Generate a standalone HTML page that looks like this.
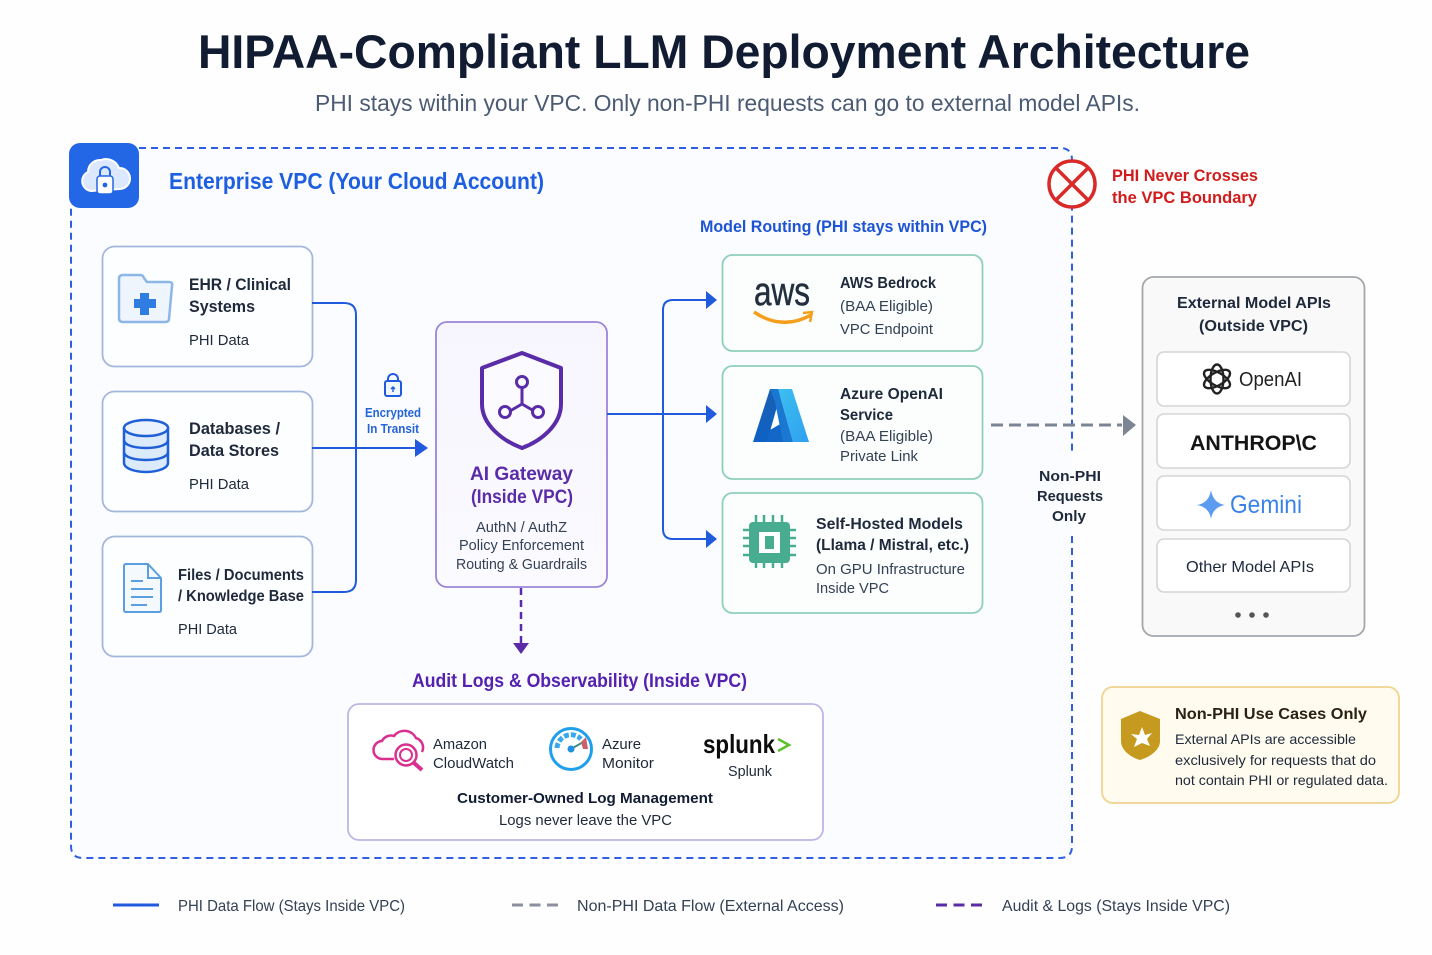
<!DOCTYPE html>
<html><head><meta charset="utf-8"><title>HIPAA-Compliant LLM Deployment Architecture</title>
<style>
html,body{margin:0;padding:0;background:#fefefe}
svg{display:block;filter:blur(.35px)}
text{font-family:"Liberation Sans",sans-serif;fill:#1e293b}
.b{font-weight:700}
.s{fill:#334155}
</style></head><body>
<svg width="1432" height="955" viewBox="0 0 1432 955" xmlns="http://www.w3.org/2000/svg">
<defs>
<linearGradient id="azL" x1="0" y1="0" x2="0" y2="1"><stop offset="0" stop-color="#1a5fb4"/><stop offset="1" stop-color="#0e62c4"/></linearGradient>
<linearGradient id="azR" x1="0" y1="0" x2="1" y2="1"><stop offset="0" stop-color="#3cc0f0"/><stop offset="1" stop-color="#2f9ff0"/></linearGradient>
<linearGradient id="gw" x1="0" y1="0" x2="0" y2="1"><stop offset="0" stop-color="#f7f5fe"/><stop offset="1" stop-color="#fbfaff"/></linearGradient>
</defs>
<rect width="1432" height="955" fill="#fefefe"/>

<text class="b" x="198" y="68" font-size="47" textLength="1052" lengthAdjust="spacingAndGlyphs" style="fill:#111c33">HIPAA-Compliant LLM Deployment Architecture</text>
<text x="315" y="111" font-size="23" textLength="825" lengthAdjust="spacingAndGlyphs" style="fill:#4b5b73">PHI stays within your VPC. Only non-PHI requests can go to external model APIs.</text>

<!-- VPC boundary -->
<rect x="71" y="148" width="1001" height="710" rx="14" fill="#fbfcff"/>
<path d="M139 148H1060Q1072 148 1072 160V455M1072 536V846Q1072 858 1060 858H83Q71 858 71 846V205" fill="none" stroke="#2f5fe0" stroke-width="2" stroke-dasharray="7 5"/>
<rect x="69" y="143" width="70" height="65" rx="11" fill="#2366e6"/>
<!-- cloud lock -->
<path d="M91 191a10 10 0 0 1-3-19a12 12 0 0 1 13-12a14 14 0 0 1 18 8a10 10 0 0 1 1 21z" fill="#dbe8ff" stroke="#fff" stroke-width="2"/>
<rect x="97" y="176" width="16" height="18" rx="3" fill="#fff" stroke="#2366e6" stroke-width="1.500"/>
<path d="M100 176v-4a5 5 0 0 1 10 0v4" fill="none" stroke="#2366e6" stroke-width="2"/>
<circle cx="105" cy="185" r="2.400" fill="#2366e6"/>
<text class="b" x="169" y="189" font-size="23" textLength="375" lengthAdjust="spacingAndGlyphs" style="fill:#1d5fe0">Enterprise VPC (Your Cloud Account)</text>

<!-- red X -->
<circle cx="1072" cy="184" r="23" fill="#fefefe" stroke="#d92a2a" stroke-width="3.500"/>
<path d="M1056 168L1088 200M1088 168L1056 200" stroke="#d92a2a" stroke-width="3.500"/>
<text class="b" x="1112" y="181" font-size="17" textLength="146" lengthAdjust="spacingAndGlyphs" style="fill:#d01c1c">PHI Never Crosses</text>
<text class="b" x="1112" y="203" font-size="17" textLength="145" lengthAdjust="spacingAndGlyphs" style="fill:#d01c1c">the VPC Boundary</text>

<!-- sources -->
<g fill="#fdfeff" stroke="#a3b7de" stroke-width="1.800">
<rect x="102.500" y="246.500" width="210" height="120" rx="12"/>
<rect x="102.500" y="391.500" width="210" height="120" rx="12"/>
<rect x="102.500" y="536.500" width="210" height="120" rx="12"/>
</g>
<!-- folder -->
<path d="M119 279q0-4 4-4h17q3 0 4 3l3 4h22q4 0 3 4l-3 33q0 3-4 3h-42q-4 0-4-4z" fill="#eef5fd" stroke="#8cb6e6" stroke-width="2.500"/>
<path d="M140 293h9v6h7v9h-7v7h-9v-7h-6v-9h6z" fill="#2f7de0"/>
<text class="b" x="189" y="290" font-size="17" textLength="102" lengthAdjust="spacingAndGlyphs">EHR / Clinical</text>
<text class="b" x="189" y="312" font-size="17" textLength="66" lengthAdjust="spacingAndGlyphs">Systems</text>
<text x="189" y="345" font-size="15" textLength="60" lengthAdjust="spacingAndGlyphs">PHI Data</text>
<!-- db -->
<path d="M124 429v34c0 5 10 9 22 9s22-4 22-9v-34z" fill="#dcebfb" stroke="#1f5fd8" stroke-width="2.500"/>
<ellipse cx="146" cy="428" rx="22" ry="8" fill="#eaf3fd" stroke="#1f5fd8" stroke-width="2.500"/>
<path d="M124 440c0 5 10 8 22 8s22-3 22-8M124 452c0 5 10 8 22 8s22-3 22-8" fill="none" stroke="#1f5fd8" stroke-width="2.500"/>
<text class="b" x="189" y="434" font-size="17" textLength="91" lengthAdjust="spacingAndGlyphs">Databases /</text>
<text class="b" x="189" y="456" font-size="17" textLength="90" lengthAdjust="spacingAndGlyphs">Data Stores</text>
<text x="189" y="489" font-size="15" textLength="60" lengthAdjust="spacingAndGlyphs">PHI Data</text>
<!-- doc -->
<path d="M124 566q0-2 2-2h22l13 14v32q0 2-2 2h-33q-2 0-2-2z" fill="#f4f9fe" stroke="#5b9fe0" stroke-width="2"/>
<path d="M148 564v14h13" fill="none" stroke="#5b9fe0" stroke-width="2"/>
<path d="M131 581h12M131 589h22M131 597h22M131 605h16" stroke="#5b9fe0" stroke-width="2"/>
<text class="b" x="178" y="580" font-size="16" textLength="126" lengthAdjust="spacingAndGlyphs">Files / Documents</text>
<text class="b" x="178" y="601" font-size="16" textLength="126" lengthAdjust="spacingAndGlyphs">/ Knowledge Base</text>
<text x="178" y="634" font-size="15" textLength="59" lengthAdjust="spacingAndGlyphs">PHI Data</text>

<!-- left connectors -->
<g fill="none" stroke="#1f5bdc" stroke-width="2">
<path d="M312 303H344Q356 303 356 315V580Q356 592 344 592H312"/>
<path d="M312 448H418"/>
</g>
<path d="M415 439L428 448L415 457z" fill="#1f5bdc"/>
<!-- small lock -->
<rect x="385" y="381" width="16" height="15" rx="2" fill="#f2f6ff" stroke="#1f5bdc" stroke-width="2"/>
<path d="M388 381v-2a5 5 0 0 1 10 0v2" fill="none" stroke="#1f5bdc" stroke-width="2"/>
<path d="M393 392v-5M391 389l2-2 2 2" fill="none" stroke="#1f5bdc" stroke-width="1.400"/>
<text class="b" x="365" y="417" font-size="12.500" textLength="56" lengthAdjust="spacingAndGlyphs" style="fill:#2563d8">Encrypted</text>
<text class="b" x="367" y="433" font-size="12.500" textLength="52" lengthAdjust="spacingAndGlyphs" style="fill:#2563d8">In Transit</text>

<!-- gateway -->
<rect x="436" y="322" width="171" height="265" rx="11" fill="url(#gw)" stroke="#9b85d8" stroke-width="1.800"/>
<path d="M522 353L561 368V404C561 425 541 441 522 448C503 441 482 425 482 404V368z" fill="#fbfaff" stroke="#5a2ca8" stroke-width="4" stroke-linejoin="round"/>
<path d="M522 388V404M522 404L510 411M522 404L534 411" stroke="#5a2ca8" stroke-width="3" fill="none"/>
<circle cx="522" cy="382" r="5.500" fill="#fbfaff" stroke="#5a2ca8" stroke-width="3"/>
<circle cx="505" cy="412" r="5.500" fill="#fbfaff" stroke="#5a2ca8" stroke-width="3"/>
<circle cx="538" cy="412" r="5.500" fill="#fbfaff" stroke="#5a2ca8" stroke-width="3"/>
<text class="b" x="470" y="480" font-size="19" textLength="103" lengthAdjust="spacingAndGlyphs" style="fill:#5a2ca8">AI Gateway</text>
<text class="b" x="471" y="503" font-size="19" textLength="102" lengthAdjust="spacingAndGlyphs" style="fill:#5a2ca8">(Inside VPC)</text>
<text x="476" y="532" font-size="15" textLength="91" lengthAdjust="spacingAndGlyphs" class="s">AuthN / AuthZ</text>
<text x="459" y="550" font-size="15" textLength="125" lengthAdjust="spacingAndGlyphs" class="s">Policy Enforcement</text>
<text x="456" y="569" font-size="15" textLength="131" lengthAdjust="spacingAndGlyphs" class="s">Routing &amp; Guardrails</text>

<!-- purple arrow -->
<path d="M521 588V643" stroke="#5a2ca8" stroke-width="2.500" stroke-dasharray="7 5" fill="none"/>
<path d="M513 643H529L521 654z" fill="#5a2ca8"/>

<!-- routing connectors -->
<g fill="none" stroke="#1f5bdc" stroke-width="2">
<path d="M607 414H707"/>
<path d="M707 300H673Q663 300 663 310V529Q663 539 673 539H707"/>
</g>
<g fill="#1f5bdc">
<path d="M706 291L717 300L706 309z"/>
<path d="M706 405L717 414L706 423z"/>
<path d="M706 530L717 539L706 548z"/>
</g>
<text class="b" x="700" y="232" font-size="17" textLength="287" lengthAdjust="spacingAndGlyphs" style="fill:#1d54d6">Model Routing (PHI stays within VPC)</text>

<!-- models -->
<g fill="#fbfefd" stroke="#8fd0bb" stroke-width="1.800">
<rect x="722.500" y="255" width="260" height="96" rx="10"/>
<rect x="722.500" y="366" width="260" height="113" rx="10"/>
<rect x="722.500" y="493" width="260" height="120" rx="10"/>
</g>
<!-- aws -->
<text x="754" y="305" font-size="40" textLength="56" lengthAdjust="spacingAndGlyphs" style="fill:#232f3e;stroke:#232f3e;stroke-width:.5">aws</text>
<path d="M754 312Q782 331 811 315" fill="none" stroke="#f59e1b" stroke-width="3.500"/>
<path d="M803 313L812 312L810 322" fill="none" stroke="#f59e1b" stroke-width="2.500"/>
<text class="b" x="840" y="288" font-size="15.500" textLength="96" lengthAdjust="spacingAndGlyphs">AWS Bedrock</text>
<text x="840" y="311" font-size="15" textLength="93" lengthAdjust="spacingAndGlyphs" class="s">(BAA Eligible)</text>
<text x="840" y="334" font-size="15" textLength="93" lengthAdjust="spacingAndGlyphs" class="s">VPC Endpoint</text>
<!-- azure -->
<path d="M770 389H782L767 442H753z" fill="url(#azL)"/>
<path d="M778 389H792L809 442H793z" fill="url(#azR)"/>
<path d="M770 430L782 423L790 442H766z" fill="#1267c8"/>
<path d="M770 389H778L793 442H783L775 402z" fill="#1a78d0"/>
<text class="b" x="840" y="399" font-size="16" textLength="103" lengthAdjust="spacingAndGlyphs">Azure OpenAI</text>
<text class="b" x="840" y="420" font-size="16" textLength="53" lengthAdjust="spacingAndGlyphs">Service</text>
<text x="840" y="441" font-size="15" textLength="93" lengthAdjust="spacingAndGlyphs" class="s">(BAA Eligible)</text>
<text x="840" y="461" font-size="15" textLength="78" lengthAdjust="spacingAndGlyphs" class="s">Private Link</text>
<!-- chip -->
<g stroke="#48ad90" stroke-width="2.500">
<path d="M756 515v53M764 515v53M773 515v53M782 515v53M743 530h53M743 538h53M743 546h53M743 555h53"/>
</g>
<rect x="749" y="522" width="41" height="41" rx="4" fill="#48ad90"/>
<rect x="759" y="532" width="21" height="21" fill="#fff"/>
<rect x="765" y="536" width="9" height="13" fill="#48ad90"/>
<text class="b" x="816" y="529" font-size="16" textLength="147" lengthAdjust="spacingAndGlyphs">Self-Hosted Models</text>
<text class="b" x="816" y="550" font-size="16" textLength="153" lengthAdjust="spacingAndGlyphs">(Llama / Mistral, etc.)</text>
<text x="816" y="574" font-size="15" textLength="149" lengthAdjust="spacingAndGlyphs" class="s">On GPU Infrastructure</text>
<text x="816" y="593" font-size="15" textLength="73" lengthAdjust="spacingAndGlyphs" class="s">Inside VPC</text>

<!-- gray arrow -->
<path d="M991 425H1122" stroke="#7c8594" stroke-width="3" stroke-dasharray="12 6" fill="none"/>
<path d="M1123 415L1136 425L1123 436z" fill="#7c8594"/>
<text class="b" x="1039" y="481" font-size="15" textLength="62" lengthAdjust="spacingAndGlyphs">Non-PHI</text>
<text class="b" x="1037" y="501" font-size="15" textLength="66" lengthAdjust="spacingAndGlyphs">Requests</text>
<text class="b" x="1052" y="521" font-size="15" textLength="34" lengthAdjust="spacingAndGlyphs">Only</text>

<!-- external -->
<rect x="1142.500" y="277" width="222" height="359" rx="11" fill="#f9f9f9" stroke="#a4a7ac" stroke-width="1.800"/>
<text class="b" x="1177" y="308" font-size="16" textLength="154" lengthAdjust="spacingAndGlyphs">External Model APIs</text>
<text class="b" x="1199" y="331" font-size="16" textLength="109" lengthAdjust="spacingAndGlyphs">(Outside VPC)</text>
<g fill="#fff" stroke="#d3d5d9" stroke-width="1.600">
<rect x="1157" y="352" width="193" height="54" rx="7"/>
<rect x="1157" y="414" width="193" height="54" rx="7"/>
<rect x="1157" y="476" width="193" height="54" rx="7"/>
<rect x="1157" y="539" width="193" height="53" rx="7"/>
</g>
<g fill="none" stroke="#222" stroke-width="2.400" transform="translate(1217 379)">
<ellipse rx="14.500" ry="6.500" transform="rotate(30)"/><ellipse rx="14.500" ry="6.500" transform="rotate(90)"/><ellipse rx="14.500" ry="6.500" transform="rotate(150)"/>
</g>
<text x="1239" y="386" font-size="20" textLength="63" lengthAdjust="spacingAndGlyphs" style="fill:#222">OpenAI</text>
<text class="b" x="1190" y="450" font-size="21" textLength="127" lengthAdjust="spacingAndGlyphs" style="fill:#141414">ANTHROP\C</text>
<path d="M1211 490Q1213 503 1225 505Q1213 507 1211 519Q1209 507 1197 505Q1209 503 1211 490z" fill="#5b9cf0"/>
<text x="1230" y="513" font-size="25" textLength="72" lengthAdjust="spacingAndGlyphs" style="fill:#3b82e8">Gemini</text>
<text x="1186" y="572" font-size="16" textLength="128" lengthAdjust="spacingAndGlyphs">Other Model APIs</text>
<g fill="#555"><circle cx="1238" cy="615" r="2.800"/><circle cx="1252" cy="615" r="2.800"/><circle cx="1266" cy="615" r="2.800"/></g>

<!-- note -->
<rect x="1102" y="687" width="297" height="116" rx="11" fill="#fffbee" stroke="#efd48e" stroke-width="1.800"/>
<path d="M1140 711L1160 719V741C1160 750 1150 757 1140 760C1130 757 1121 750 1121 741V719z" fill="#c59a1f"/>
<path d="M1142 727L1145 735L1152 733L1147 739L1150 746L1142 743L1134 747L1137 739L1131 734L1139 735z" fill="#fff"/>
<text class="b" x="1175" y="719" font-size="16" textLength="192" lengthAdjust="spacingAndGlyphs" style="fill:#2a2114">Non-PHI Use Cases Only</text>
<text x="1175" y="744" font-size="14" textLength="181" lengthAdjust="spacingAndGlyphs">External APIs are accessible</text>
<text x="1175" y="765" font-size="14" textLength="201" lengthAdjust="spacingAndGlyphs">exclusively for requests that do</text>
<text x="1175" y="785" font-size="14" textLength="213" lengthAdjust="spacingAndGlyphs">not contain PHI or regulated data.</text>

<!-- audit -->
<text class="b" x="412" y="687" font-size="19" textLength="335" lengthAdjust="spacingAndGlyphs" style="fill:#5522b0">Audit Logs &amp; Observability (Inside VPC)</text>
<rect x="348" y="704" width="475" height="136" rx="11" fill="#fff" stroke="#bfb5e4" stroke-width="1.800"/>
<!-- cloudwatch -->
<path d="M394 759H383a9 9 0 0 1-1-18a10 10 0 0 1 12-5a13 13 0 0 1 22 2a10 10 0 0 1 6 14" fill="none" stroke="#d9308f" stroke-width="2.500"/>
<circle cx="406" cy="755" r="10.500" fill="#fff" stroke="#d9308f" stroke-width="2.500"/>
<circle cx="406" cy="755" r="6" fill="none" stroke="#d9308f" stroke-width="2"/>
<path d="M414 763L422 770" stroke="#d9308f" stroke-width="4"/>
<text x="433" y="749" font-size="15" textLength="54" lengthAdjust="spacingAndGlyphs">Amazon</text>
<text x="433" y="768" font-size="15" textLength="81" lengthAdjust="spacingAndGlyphs">CloudWatch</text>
<!-- monitor -->
<circle cx="571" cy="749" r="20.500" fill="#fff" stroke="#1f9fec" stroke-width="3"/>
<path d="M557 748a14 14 0 0 1 24-9" fill="none" stroke="#39a9ee" stroke-width="5" stroke-dasharray="5 2"/>
<path d="M571 749L585 741" stroke="#3f8f88" stroke-width="2"/>
<circle cx="571" cy="749" r="3.500" fill="#1f8fe0"/>
<path d="M581 742l5-5l2 12h-5z" fill="#c9606a"/>
<text x="602" y="749" font-size="15" textLength="39" lengthAdjust="spacingAndGlyphs">Azure</text>
<text x="602" y="768" font-size="15" textLength="52" lengthAdjust="spacingAndGlyphs">Monitor</text>
<!-- splunk -->
<text class="b" x="703" y="753" font-size="26" textLength="72" lengthAdjust="spacingAndGlyphs" style="fill:#0c0c0c">splunk</text>
<path d="M778 739L789 745L778 751" fill="none" stroke="#5cc02e" stroke-width="2.500"/>
<text x="728" y="776" font-size="15" textLength="44" lengthAdjust="spacingAndGlyphs">Splunk</text>
<text class="b" x="457" y="803" font-size="15" textLength="256" lengthAdjust="spacingAndGlyphs" style="fill:#111c33">Customer-Owned Log Management</text>
<text x="499" y="825" font-size="15" textLength="173" lengthAdjust="spacingAndGlyphs">Logs never leave the VPC</text>

<!-- legend -->
<path d="M113 905H159" stroke="#1f5bdc" stroke-width="3" fill="none"/>
<text x="178" y="911" font-size="16" textLength="227" lengthAdjust="spacingAndGlyphs" class="s">PHI Data Flow (Stays Inside VPC)</text>
<path d="M512 905H558" stroke="#8a919d" stroke-width="3" stroke-dasharray="11 6.500" fill="none"/>
<text x="577" y="911" font-size="16" textLength="267" lengthAdjust="spacingAndGlyphs" class="s">Non-PHI Data Flow (External Access)</text>
<path d="M936 905H982" stroke="#5a2ca8" stroke-width="3" stroke-dasharray="11 6.500" fill="none"/>
<text x="1002" y="911" font-size="16" textLength="228" lengthAdjust="spacingAndGlyphs" class="s">Audit &amp; Logs (Stays Inside VPC)</text>
</svg>
</body></html>
